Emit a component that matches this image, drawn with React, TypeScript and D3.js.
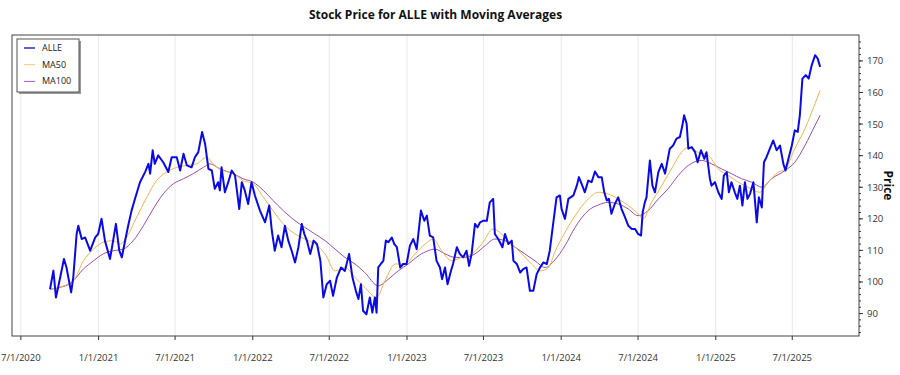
import React from "react";
import * as d3 from "d3";

const TITLE = "Stock Price for ALLE with Moving Averages";
const Y_LABEL = "Price";
const SERIES_NAMES = ["ALLE", "MA50", "MA100"];
const X_TICKS = ["2020-07-01", "2021-01-01", "2021-07-01", "2022-01-01", "2022-07-01", "2023-01-01", "2023-07-01", "2024-01-01", "2024-07-01", "2025-01-01", "2025-07-01"];
const Y_TICKS = [90, 100, 110, 120, 130, 140, 150, 160, 170];
const X_DOMAIN = ["2020-06-10", "2025-12-06"];
const Y_DOMAIN = [82.9, 178.2];

const price: [string, number][] = [
  ["2020-09-08", 97.7], ["2020-09-16", 103.6], ["2020-09-22", 95.1], ["2020-09-28", 98.8], ["2020-10-11", 107.3], ["2020-10-17", 104.6], ["2020-10-28", 96.7], ["2020-11-02", 101.4], ["2020-11-10", 115.2], ["2020-11-14", 117.8], ["2020-11-22", 113.6], ["2020-11-30", 114.1], ["2020-12-12", 109.9], ["2020-12-24", 114.1], ["2020-12-31", 115.2],
  ["2021-01-08", 120.0], ["2021-01-16", 113.1], ["2021-01-28", 107.3], ["2021-02-03", 112.0], ["2021-02-11", 118.4], ["2021-02-19", 109.9], ["2021-02-25", 107.8], ["2021-03-04", 112.6], ["2021-03-12", 117.8], ["2021-03-20", 122.6], ["2021-03-28", 126.3], ["2021-04-09", 131.6], ["2021-04-21", 134.8], ["2021-04-29", 137.4], ["2021-05-03", 134.3], ["2021-05-09", 141.7], ["2021-05-14", 137.4], ["2021-05-22", 140.1], ["2021-06-03", 137.9], ["2021-06-15", 134.8], ["2021-06-23", 139.5], ["2021-07-05", 139.5], ["2021-07-13", 135.3], ["2021-07-21", 140.6], ["2021-07-29", 136.9], ["2021-08-09", 136.3], ["2021-08-17", 139.5], ["2021-08-25", 141.1], ["2021-09-03", 147.5], ["2021-09-10", 143.8], ["2021-09-18", 135.8], ["2021-09-26", 135.3], ["2021-10-03", 129.5], ["2021-10-11", 131.6], ["2021-10-15", 129.0], ["2021-10-19", 136.3], ["2021-10-27", 128.4], ["2021-11-04", 131.6], ["2021-11-12", 135.3], ["2021-11-20", 133.7], ["2021-11-30", 123.1], ["2021-12-06", 131.6], ["2021-12-13", 129.0], ["2021-12-21", 124.7], ["2021-12-29", 131.6],
  ["2022-01-06", 127.4], ["2022-01-18", 122.6], ["2022-01-30", 118.9], ["2022-02-09", 124.2], ["2022-02-15", 116.3], ["2022-02-22", 109.9], ["2022-03-02", 114.7], ["2022-03-10", 111.0], ["2022-03-18", 117.8], ["2022-03-26", 113.1], ["2022-04-03", 109.9], ["2022-04-11", 106.2], ["2022-04-19", 111.0], ["2022-04-27", 118.4], ["2022-05-03", 115.2], ["2022-05-09", 113.1], ["2022-05-17", 108.9], ["2022-05-25", 113.1], ["2022-06-02", 112.0], ["2022-06-10", 106.7], ["2022-06-17", 95.1], ["2022-06-25", 99.3], ["2022-07-03", 100.4], ["2022-07-10", 95.6], ["2022-07-19", 101.4], ["2022-07-29", 104.6], ["2022-08-07", 103.5], ["2022-08-17", 108.9], ["2022-08-25", 101.4], ["2022-09-02", 97.2], ["2022-09-08", 94.6], ["2022-09-14", 99.3], ["2022-09-19", 90.9], ["2022-09-27", 89.8], ["2022-10-05", 95.1], ["2022-10-11", 90.3], ["2022-10-17", 95.1], ["2022-10-21", 90.3], ["2022-10-25", 104.6], ["2022-10-31", 105.7], ["2022-11-06", 106.7], ["2022-11-12", 113.1], ["2022-11-18", 112.6], ["2022-11-26", 114.1], ["2022-12-02", 112.0], ["2022-12-08", 111.0], ["2022-12-16", 104.6], ["2022-12-23", 105.7], ["2022-12-31", 105.7],
  ["2023-01-08", 111.5], ["2023-01-16", 113.6], ["2023-01-24", 110.4], ["2023-02-03", 122.6], ["2023-02-11", 119.4], ["2023-02-17", 121.0], ["2023-02-24", 114.7], ["2023-03-04", 114.1], ["2023-03-12", 106.7], ["2023-03-20", 104.6], ["2023-03-25", 100.9], ["2023-04-01", 104.6], ["2023-04-07", 99.3], ["2023-04-15", 103.5], ["2023-04-20", 105.7], ["2023-04-29", 111.0], ["2023-05-06", 108.9], ["2023-05-14", 107.8], ["2023-05-22", 109.9], ["2023-05-28", 105.1], ["2023-06-03", 108.9], ["2023-06-11", 118.4], ["2023-06-17", 117.3], ["2023-06-23", 118.9], ["2023-07-01", 119.4], ["2023-07-09", 119.4], ["2023-07-16", 125.2], ["2023-07-24", 126.3], ["2023-07-28", 115.2], ["2023-08-05", 113.6], ["2023-08-15", 111.0], ["2023-08-21", 115.2], ["2023-08-29", 112.0], ["2023-09-06", 113.1], ["2023-09-10", 106.7], ["2023-09-18", 105.7], ["2023-09-26", 103.0], ["2023-10-03", 104.1], ["2023-10-11", 104.6], ["2023-10-19", 97.2], ["2023-10-27", 97.2], ["2023-11-04", 102.5], ["2023-11-12", 104.6], ["2023-11-20", 106.2], ["2023-11-28", 105.7], ["2023-12-05", 109.9], ["2023-12-13", 118.4], ["2023-12-21", 126.8], ["2023-12-29", 127.4],
  ["2024-01-02", 123.1], ["2024-01-10", 120.0], ["2024-01-18", 126.3], ["2024-01-30", 127.4], ["2024-02-07", 130.5], ["2024-02-12", 133.2], ["2024-02-20", 130.5], ["2024-02-26", 128.4], ["2024-03-05", 132.1], ["2024-03-13", 131.6], ["2024-03-21", 135.0], ["2024-03-29", 133.2], ["2024-04-06", 133.2], ["2024-04-12", 128.4], ["2024-04-18", 125.8], ["2024-04-23", 126.3], ["2024-04-29", 121.6], ["2024-05-07", 124.7], ["2024-05-15", 126.8], ["2024-05-23", 123.1], ["2024-05-31", 120.5], ["2024-06-08", 117.8], ["2024-06-16", 116.8], ["2024-06-24", 116.8], ["2024-07-01", 115.2], ["2024-07-08", 114.7], ["2024-07-12", 122.1], ["2024-07-17", 125.2], ["2024-07-21", 126.8], ["2024-07-29", 138.5], ["2024-08-04", 130.5], ["2024-08-10", 128.4], ["2024-08-18", 134.8], ["2024-08-26", 137.4], ["2024-09-03", 134.3], ["2024-09-14", 142.2], ["2024-09-22", 143.2], ["2024-09-30", 145.4], ["2024-10-08", 145.9], ["2024-10-14", 149.6], ["2024-10-18", 152.8], ["2024-10-24", 150.1], ["2024-10-28", 142.2], ["2024-11-05", 142.7], ["2024-11-13", 141.1], ["2024-11-19", 137.9], ["2024-11-27", 141.7], ["2024-12-05", 139.0], ["2024-12-10", 141.1], ["2024-12-18", 132.7], ["2024-12-22", 130.5], ["2024-12-30", 131.6],
  ["2025-01-07", 128.4], ["2025-01-15", 126.3], ["2025-01-20", 133.7], ["2025-01-27", 134.8], ["2025-02-01", 128.4], ["2025-02-07", 131.6], ["2025-02-15", 128.4], ["2025-02-21", 126.3], ["2025-02-27", 130.5], ["2025-03-05", 124.2], ["2025-03-11", 131.6], ["2025-03-17", 126.3], ["2025-03-23", 127.9], ["2025-03-31", 131.6], ["2025-04-08", 118.9], ["2025-04-13", 126.8], ["2025-04-20", 123.6], ["2025-04-25", 137.9], ["2025-05-01", 139.5], ["2025-05-09", 142.2], ["2025-05-17", 144.8], ["2025-05-25", 141.7], ["2025-06-02", 143.2], ["2025-06-10", 137.4], ["2025-06-15", 135.3], ["2025-06-22", 139.0], ["2025-06-30", 143.2], ["2025-07-07", 148.0], ["2025-07-14", 147.5], ["2025-07-19", 152.8], ["2025-07-25", 164.4], ["2025-08-02", 165.5], ["2025-08-09", 164.4], ["2025-08-16", 168.6], ["2025-08-24", 171.8], ["2025-08-30", 170.8], ["2025-09-05", 168.1],
];

const ma50: [string, number][] = [
  ["2020-09-08", 97.7], ["2020-11-02", 100.4], ["2020-11-26", 106.7], ["2020-12-20", 110.4], ["2021-01-12", 112.6], ["2021-02-05", 113.1], ["2021-02-21", 112.0], ["2021-03-08", 114.1], ["2021-04-01", 120.5], ["2021-04-25", 126.8], ["2021-05-18", 132.1], ["2021-06-11", 134.8], ["2021-07-05", 136.3], ["2021-07-29", 136.9], ["2021-08-21", 137.4], ["2021-09-14", 139.5], ["2021-09-29", 137.4], ["2021-10-23", 135.3], ["2021-11-16", 134.3], ["2021-12-09", 132.1],
  ["2022-01-02", 131.1], ["2022-01-26", 126.8], ["2022-02-18", 122.6], ["2022-03-14", 118.4], ["2022-04-11", 115.2], ["2022-05-04", 113.6], ["2022-05-28", 112.0], ["2022-06-21", 108.9], ["2022-07-15", 103.5], ["2022-08-07", 104.6], ["2022-08-31", 101.4], ["2022-09-23", 98.3], ["2022-10-21", 95.1], ["2022-11-10", 100.4], ["2022-12-04", 105.7], ["2022-12-27", 105.7],
  ["2023-01-20", 108.9], ["2023-02-13", 112.0], ["2023-03-04", 113.6], ["2023-03-24", 109.9], ["2023-04-17", 106.7], ["2023-05-10", 107.8], ["2023-06-03", 108.9], ["2023-06-27", 112.0], ["2023-07-24", 116.8], ["2023-08-13", 115.2], ["2023-09-06", 112.0], ["2023-09-30", 108.9], ["2023-10-23", 105.7], ["2023-11-12", 103.5], ["2023-12-02", 104.6], ["2023-12-17", 109.5],
  ["2024-01-10", 115.7], ["2024-02-03", 121.0], ["2024-03-05", 126.3], ["2024-03-29", 128.4], ["2024-04-21", 127.9], ["2024-05-15", 126.3], ["2024-06-08", 124.2], ["2024-07-01", 121.6], ["2024-07-13", 120.0], ["2024-08-02", 125.2], ["2024-08-26", 130.5], ["2024-09-18", 135.8], ["2024-10-12", 141.1], ["2024-10-28", 142.7], ["2024-11-20", 141.1], ["2024-12-14", 140.1],
  ["2025-01-07", 135.8], ["2025-01-31", 133.7], ["2025-02-23", 131.6], ["2025-03-19", 130.0], ["2025-04-15", 128.4], ["2025-05-05", 131.6], ["2025-05-29", 134.8], ["2025-06-14", 135.8], ["2025-07-07", 142.2], ["2025-07-31", 148.5], ["2025-08-24", 156.5], ["2025-09-05", 160.7],
];

const ma100: [string, number][] = [
  ["2020-09-08", 97.7], ["2020-10-02", 98.3], ["2020-10-29", 99.8], ["2020-11-26", 104.1], ["2020-12-20", 106.7], ["2021-01-12", 108.9], ["2021-02-05", 109.9], ["2021-02-28", 110.4], ["2021-03-24", 113.1], ["2021-04-17", 117.8], ["2021-05-10", 123.1], ["2021-06-03", 127.9], ["2021-06-27", 131.1], ["2021-07-21", 132.7], ["2021-08-13", 134.3], ["2021-09-06", 136.3], ["2021-09-22", 137.4], ["2021-10-15", 135.8], ["2021-11-16", 134.3], ["2021-12-09", 132.7],
  ["2022-01-02", 131.6], ["2022-01-26", 129.0], ["2022-02-18", 125.8], ["2022-03-14", 122.6], ["2022-04-11", 119.4], ["2022-05-04", 117.3], ["2022-05-28", 115.2], ["2022-06-21", 113.1], ["2022-07-15", 110.4], ["2022-08-07", 107.8], ["2022-08-31", 105.7], ["2022-09-23", 103.0], ["2022-10-25", 98.8], ["2022-11-18", 100.9], ["2022-12-11", 103.5],
  ["2023-01-04", 105.7], ["2023-01-28", 108.3], ["2023-02-20", 109.9], ["2023-03-08", 110.4], ["2023-04-01", 108.9], ["2023-04-25", 107.8], ["2023-05-18", 107.8], ["2023-06-11", 108.9], ["2023-07-05", 111.5], ["2023-07-28", 113.6], ["2023-08-21", 113.1], ["2023-09-14", 111.0], ["2023-10-07", 108.9], ["2023-10-31", 106.7], ["2023-11-24", 104.6], ["2023-12-17", 107.0],
  ["2024-01-10", 111.5], ["2024-02-03", 117.3], ["2024-03-05", 122.6], ["2024-03-29", 124.4], ["2024-04-21", 125.2], ["2024-05-15", 124.7], ["2024-06-08", 123.1], ["2024-07-01", 121.0], ["2024-07-25", 122.6], ["2024-08-18", 126.3], ["2024-09-10", 129.5], ["2024-10-04", 133.7], ["2024-10-28", 136.9], ["2024-11-29", 138.5], ["2024-12-22", 137.4],
  ["2025-01-15", 135.8], ["2025-02-07", 134.3], ["2025-03-03", 132.7], ["2025-03-27", 131.6], ["2025-04-20", 130.0], ["2025-05-13", 132.7], ["2025-06-14", 135.3], ["2025-07-07", 137.9], ["2025-07-31", 143.2], ["2025-08-24", 149.6], ["2025-09-05", 152.8],
];

const COLORS = { price: "#0a0ae6", ma50: "#f2b64e", ma100: "#9a4fae" };
const LEGEND_COLORS = ["#2b2bb8", "#f5c77a", "#a35cb8"];

const W = 900, H = 375;
const M = { left: 12, right: 859, top: 35, bottom: 336 };
const FONT = "'Open Sans', 'Noto Sans', sans-serif";

export default function App() {
  const parse = d3.timeParse("%Y-%m-%d");
  const x = d3.scaleTime().domain(X_DOMAIN.map((s) => parse(s) as Date)).range([M.left, M.right]);
  const y = d3.scaleLinear().domain(Y_DOMAIN).range([M.bottom, M.top]);
  const line = d3.line<[string, number]>().x((d) => x(parse(d[0]) as Date)).y((d) => y(d[1]));
  const smooth = d3.line<[string, number]>().x((d) => x(parse(d[0]) as Date)).y((d) => y(d[1])).curve(d3.curveMonotoneX);
  const fmt = d3.timeFormat("%-m/%-d/%Y");
  const minor = d3.range(84, 178, 2);

  return (
    <svg width={W} height={H} style={{ position: "absolute", left: 0, top: 0, background: "#fff" }} fontFamily={FONT}>
      <rect x={0} y={0} width={W} height={H} fill="#fff" />
      <text x={(M.left + M.right) / 2} y={19} textAnchor="middle" fontSize={12} fontWeight="bold" fill="#111">{TITLE}</text>
      {X_TICKS.map((t) => {
        const xx = x(parse(t) as Date);
        return (
          <g key={t}>
            <line x1={xx} x2={xx} y1={M.top} y2={M.bottom} stroke="#e8e8e8" strokeWidth={1} />
            <line x1={xx} x2={xx} y1={M.bottom} y2={M.bottom + 4} stroke="#333" />
            <text x={xx} y={361} textAnchor="middle" fontSize={9.5} fill="#333">{fmt(parse(t) as Date)}</text>
          </g>
        );
      })}
      <path d={smooth(ma100) || ""} fill="none" stroke={COLORS.ma100} strokeWidth={1} />
      <path d={smooth(ma50) || ""} fill="none" stroke={COLORS.ma50} strokeWidth={1} />
      <path d={line(price) || ""} fill="none" stroke={COLORS.price} strokeWidth={2} strokeLinejoin="round" />
      <rect x={M.left} y={M.top} width={M.right - M.left} height={M.bottom - M.top} fill="none" stroke="#444" strokeWidth={1} />
      {minor.map((v) => (
        <line key={"m" + v} x1={M.right} x2={M.right + 2} y1={y(v)} y2={y(v)} stroke="#333" />
      ))}
      {Y_TICKS.map((v) => (
        <g key={v}>
          <line x1={M.right} x2={M.right + 4} y1={y(v)} y2={y(v)} stroke="#333" />
          <text x={M.right + 8} y={y(v) + 3.5} fontSize={9.5} fill="#333">{v}</text>
        </g>
      ))}
      <text transform={`translate(884, ${(M.top + M.bottom) / 2}) rotate(90)`} textAnchor="middle" fontSize={12} fontWeight="bold" fill="#111">{Y_LABEL}</text>
      <g>
        <rect x={19} y={41} width={62} height={53} fill="#999" />
        <rect x={17} y={39} width={62} height={53} fill="#fff" stroke="#555" strokeWidth={1} />
        {SERIES_NAMES.map((n, i) => (
          <g key={n}>
            <line x1={24} x2={35} y1={48 + i * 16.7} y2={48 + i * 16.7} stroke={LEGEND_COLORS[i]} strokeWidth={i === 0 ? 1.5 : 1} />
            <text x={42} y={51 + i * 16.7} fontSize={9} fill="#222">{n}</text>
          </g>
        ))}
      </g>
    </svg>
  );
}
